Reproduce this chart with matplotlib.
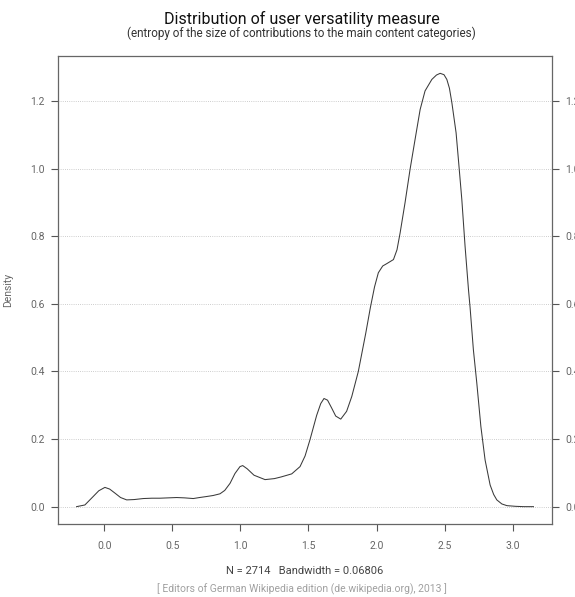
import matplotlib
matplotlib.use("Agg")
import matplotlib.pyplot as plt
import numpy as np

# Density estimate
entropy = [-0.203, -0.142, -0.081, -0.04, 0.005, 0.04, 0.079, 0.12, 0.165, 0.22, 0.287, 0.35, 0.409,
           0.47, 0.532, 0.59, 0.654, 0.70, 0.752, 0.80, 0.850, 0.885, 0.924, 0.96, 0.997, 1.017,
           1.05, 1.10, 1.181, 1.25, 1.30, 1.377, 1.438, 1.475, 1.511, 1.56, 1.590, 1.614, 1.64, 1.67,
           1.70, 1.737, 1.78, 1.818, 1.866, 1.921, 1.954, 1.985, 2.013, 2.045, 2.075, 2.124, 2.150,
           2.173, 2.209, 2.246, 2.283, 2.320, 2.356, 2.406, 2.440, 2.467, 2.495, 2.516, 2.535, 2.553,
           2.584, 2.601, 2.626, 2.650, 2.675, 2.687, 2.711, 2.736, 2.766, 2.797, 2.834, 2.860,
           2.883, 2.920, 2.957, 3.02, 3.08, 3.152]
density = [0.0, 0.005, 0.030, 0.047, 0.057, 0.052, 0.040, 0.027, 0.020, 0.021, 0.024, 0.025, 0.025,
           0.026, 0.027, 0.026, 0.024, 0.027, 0.030, 0.033, 0.038, 0.048, 0.069, 0.098, 0.1185, 0.1215,
           0.112, 0.093, 0.080, 0.083, 0.088, 0.097, 0.1185, 0.150, 0.198, 0.270, 0.305, 0.320, 0.315,
           0.292, 0.268, 0.259, 0.282, 0.326, 0.400, 0.514, 0.588, 0.650, 0.692, 0.712, 0.719, 0.731,
           0.760, 0.810, 0.899, 0.998, 1.087, 1.175, 1.230, 1.264, 1.277, 1.282, 1.278, 1.264, 1.238,
           1.195, 1.106, 1.027, 0.909, 0.770, 0.642, 0.588, 0.464, 0.366, 0.237, 0.138, 0.064, 0.036,
           0.020, 0.008, 0.003, 0.001, 0.0, 0.0]

x_ticks = [0.0, 0.5, 1.0, 1.5, 2.0, 2.5, 3.0]
y_ticks = [0.0, 0.2, 0.4, 0.6, 0.8, 1.0, 1.2]

title = "Distribution of user versatility measure"
subtitle = "(entropy of the size of contributions to the main content categories)"
xlabel = "N = 2714   Bandwidth = 0.06806"
ylabel = "Density"
caption = "[ Editors of German Wikipedia edition (de.wikipedia.org), 2013 ]"

plt.rcParams['font.family'] = ['Roboto', 'DejaVu Sans']

fig = plt.figure(figsize=(5.75, 5.97), dpi=100)
ax = fig.add_axes([0.1014, 0.1223, 0.9595 - 0.1014, 0.9062 - 0.1223])

ax.plot(entropy, density, color='#3a3a3a', lw=0.75, solid_joinstyle='round')

xmin, xmax = min(entropy), max(entropy)
pad = 0.04 * (xmax - xmin)
ax.set_xlim(xmin - pad, xmax + pad)
ymax = max(density)
ax.set_ylim(-0.04 * ymax, ymax * 1.04)

ax.set_xticks(x_ticks)
ax.set_xticklabels([f"{v:.1f}" for v in x_ticks])
ax.set_yticks(y_ticks)
ax.set_yticklabels([f"{v:.1f}" for v in y_ticks])

for yv in y_ticks:
    ax.axhline(yv, color='#bdbdbd', lw=0.6, ls=(0, (1.0, 1.6)), zorder=0)

ax.tick_params(axis='both', direction='out', length=5, width=0.8, color='#555555',
               labelcolor='#666666', labelsize=7.5)
ax.tick_params(axis='y', right=True, labelright=True, pad=5)
ax.tick_params(axis='x', top=False, pad=7)

for s in ax.spines.values():
    s.set_color('#666666')
    s.set_linewidth(0.9)

ax.set_ylabel(ylabel, fontsize=7.5, color='#666666', labelpad=12)
ax.set_xlabel(xlabel, fontsize=8, color='#444444', labelpad=11)

fig.text(0.5246, 0.968, title, ha='center', va='center', fontsize=11.5, color='#111111')
fig.text(0.5246, 0.944, subtitle, ha='center', va='center', fontsize=8.5, color='#333333')
fig.text(0.5246, 0.013, caption, ha='center', va='center', fontsize=7.5, color='#a0a0a0')

fig.savefig("out.png", dpi=100)
